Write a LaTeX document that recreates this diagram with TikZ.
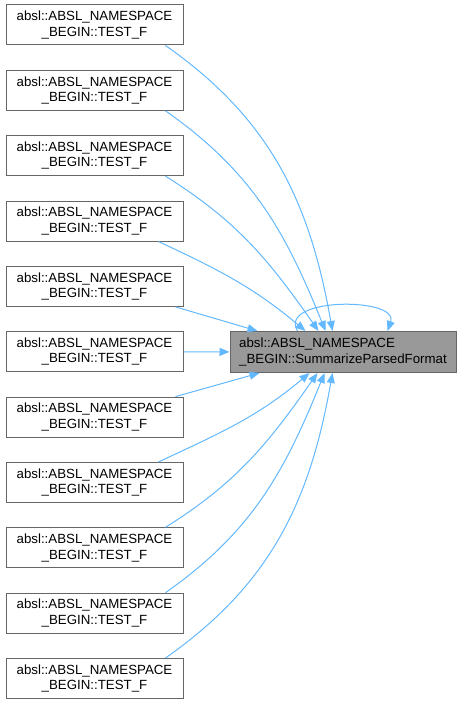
\documentclass[tikz,border=0pt]{standalone}
\usepackage{fontspec}
\setmainfont{Liberation Sans}
\usetikzlibrary{arrows.meta}

\definecolor{edgeblue}{HTML}{63B8FF}
\definecolor{boxgrey}{HTML}{666666}
\definecolor{fillgrey}{HTML}{999999}

\tikzset{
  caller/.style={draw=boxgrey, fill=white, line width=1pt, minimum width=177pt,
    minimum height=40pt, inner sep=0pt, align=center,
    font=\fontsize{13.3}{15.5}\selectfont},
  callee/.style={caller, fill=fillgrey, minimum width=226pt, minimum height=41pt,
    align=left},
  calls/.style={draw=edgeblue, line width=1pt, -{Triangle[length=10pt,width=8pt]}}
}

\begin{document}
\begin{tikzpicture}[x=1pt, y=1pt]
  \useasboundingbox (0, 0) rectangle (462, 705);
  \foreach \k in {0,...,10}
    \node[caller] (t\k) at (94.5, 680 - 65.35*\k) {absl::ABSL\_NAMESPACE\\\_BEGIN::TEST\_F};
  \node[callee] (sum) at (343, 353) {absl::ABSL\_NAMESPACE\\\_BEGIN::SummarizeParsedFormat};

  \draw[calls] ([xshift=-18]t0.south east) to[out=-35, in=100] ([xshift=103]sum.north west);
  \draw[calls] ([xshift=-18]t1.south east) to[out=-35, in=112] ([xshift=96]sum.north west);
  \draw[calls] ([xshift=-18]t2.south east) to[out=-32, in=125] ([xshift=89]sum.north west);
  \draw[calls] ([xshift=-25]t3.south east) to[out=-25, in=140] ([xshift=76]sum.north west);
  \draw[calls] ([xshift=-8]t4.south east) -- ([xshift=28]sum.north west);
  \draw[calls] (t5) -- (sum);
  \draw[calls] ([xshift=-8]t6.north east) -- ([xshift=30]sum.south west);
  \draw[calls] ([xshift=-25]t7.north east) to[out=25, in=-140] ([xshift=80]sum.south west);
  \draw[calls] ([xshift=-18]t8.north east) to[out=32, in=-125] ([xshift=88]sum.south west);
  \draw[calls] ([xshift=-18]t9.north east) to[out=35, in=-112] ([xshift=95]sum.south west);
  \draw[calls] ([xshift=-18]t10.north east) to[out=35, in=-100] ([xshift=103]sum.south west);
  \draw[calls] ([xshift=68]sum.north west) .. controls +(-20, 34) and +(12, 34) .. ([xshift=158]sum.north west);
\end{tikzpicture}
\end{document}
